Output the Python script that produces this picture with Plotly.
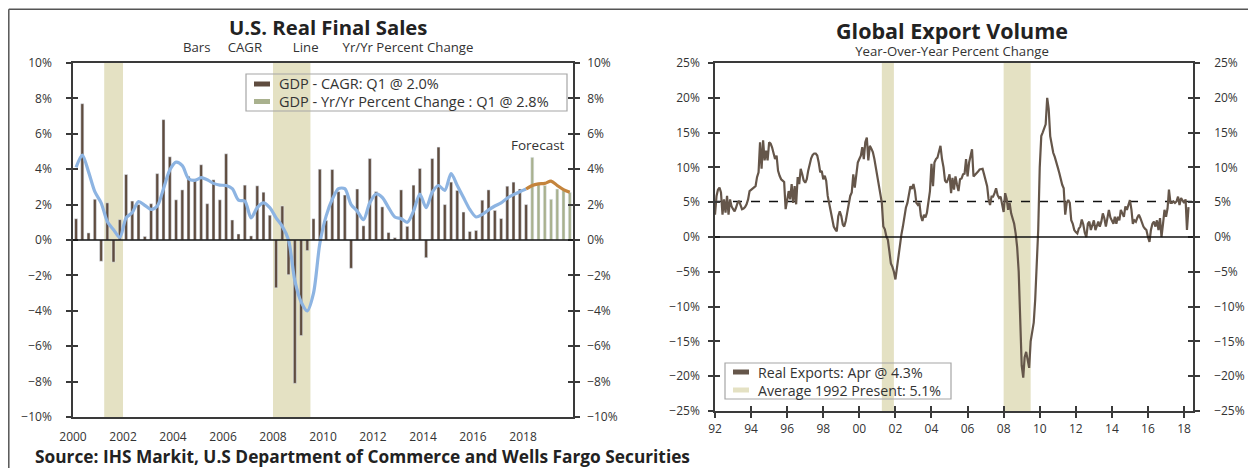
import pandas as pd
import plotly.graph_objects as go

# the page puts the figure 8px in from the top-left corner
OFF = 8
W, H = 1256 - OFF, 468 - OFF
FONT = "Open Sans"

# ---- U.S. real final sales, quarterly from 2000Q1 ----
# bars: CAGR, actual 2000Q1 - 2018Q1
cagr = [1.2, 7.7, 0.4, 2.3, -1.2, 2.1, -1.25, 1.15,
        3.7, 2.2, 2.0, 0.2, 2.05, 3.75, 6.8, 4.7,
        2.27, 2.83, 3.6, 3.45, 4.25, 2.05, 3.4, 2.27,
        4.87, 1.13, 0.34, 3.1, 0.23, 3.06, 2.7, 1.4,
        -2.7, 1.92, -1.96, -8.1, -5.4, -0.6, 1.2, 4.0,
        1.1, 3.98, 2.73, 2.54, -1.6, 2.88, 0.8, 4.6,
        2.73, 1.87, 0.42, 0.13, 2.83, 0.77, 3.1, 4.04,
        -1.0, 4.6, 5.25, 2.0, 3.27, 2.8, 1.58, 0.48,
        0.54, 2.25, 2.83, 1.67, 1.21, 3.04, 3.27, 2.88, 2.0]
# bars: CAGR forecast 2018Q2 - 2019Q4
cagr_fcst = [4.67, 3.17, 3.08, 2.3, 2.88, 2.79, 2.69]

# line: yr/yr percent change, actual
yoy = [4.1, 4.8, 3.85, 2.73, 2.1, 1.05, 0.58, 0.15,
       1.25, 1.55, 2.17, 1.96, 1.73, 1.92, 2.9, 3.95,
       4.4, 4.2, 3.46, 3.37, 3.52, 3.4, 3.2, 3.1,
       3.08, 2.9, 2.25, 2.2, 1.25, 1.83, 2.1, 1.83,
       1.25, 0.77, 0.0, -2.3, -3.5, -4.0, -3.0, -0.2,
       1.35, 2.3, 2.9, 2.9, 2.0, 1.63, 1.15, 2.1,
       2.6, 2.4, 1.83, 1.3, 1.2, 1.0, 1.63, 2.6,
       1.83, 2.7, 3.08, 2.8, 3.75, 3.08, 2.4, 1.73,
       1.3, 1.45, 1.7, 1.92, 2.1, 2.37, 2.56, 2.73, 2.88]
yoy_fcst = [3.08, 3.17, 3.2, 3.33, 3.08, 2.85, 2.7]

us_tick_years = [2000, 2002, 2004, 2006, 2008, 2010, 2012, 2014, 2016, 2018]
recessions_us = [("2001-04-01", "2002-01-01"), ("2008-01-01", "2009-07-01")]
us_legend = ["GDP - CAGR: Q1 @ 2.0%", "GDP - Yr/Yr Percent Change : Q1 @ 2.8%"]

# ---- Global export volume, monthly yr/yr from Jan 1992 ----
exports = [
    3.2, 5.9, 6.8, 7.1, 6.4, 3.2, 5.4, 3.5, 5.9, 3.2, 5.4, 4.4,          # 1992
    4.0, 3.7, 4.2, 4.9, 5.2, 4.5, 4.0, 4.1, 4.3, 4.7, 5.4, 6.6,          # 1993
    6.8, 6.9, 7.1, 7.3, 8.6, 9.3, 13.6, 9.8, 13.9, 11.0, 12.4, 11.0,     # 1994
    13.6, 13.4, 12.9, 11.9, 11.2, 11.7, 9.5, 8.8, 8.3, 8.1, 7.9, 4.0,    # 1995
    5.7, 6.6, 5.4, 7.6, 4.9, 7.3, 4.7, 8.6, 7.6, 9.8, 9.0, 8.1,          # 1996
    7.8, 8.3, 9.5, 10.5, 11.3, 11.8, 12.0, 12.0, 11.7, 10.7, 9.3, 9.5,   # 1997
    8.3, 8.8, 8.1, 5.9, 4.9, 3.7, 2.8, 1.5, 1.1, 0.8, 3.0, 3.7,          # 1998
    3.0, 1.8, 1.5, 2.3, 3.5, 4.7, 5.9, 6.4, 9.0, 7.1, 9.3, 10.7,         # 1999
    11.2, 11.7, 12.9, 11.2, 13.6, 14.3, 11.0, 13.1, 12.7, 12.2, 11.2, 10.0,  # 2000
    8.8, 7.6, 6.1, 4.9, 1.5, 1.1, 0.1, -0.4, -2.1, -3.8, -4.3, -5.0,     # 2001
    -6.1, -4.3, -2.8, -1.6, 0.3, 1.5, 3.0, 4.2, 4.9, 6.1, 7.3, 6.9,      # 2002
    7.6, 6.6, 4.9, 4.6, 4.9, 3.0, 2.3, 3.2, 2.8, 3.5, 5.4, 6.6,          # 2003
    10.5, 7.3, 10.7, 11.2, 11.4, 12.2, 13.1, 11.2, 10.0, 8.1, 7.8, 8.3,  # 2004
    9.0, 6.3, 8.5, 6.8, 8.7, 7.5, 6.6, 8.3, 8.4, 9.0, 9.1, 11.2,         # 2005
    8.7, 10.7, 11.5, 12.6, 8.7, 8.9, 9.2, 9.4, 9.7, 9.8, 9.8, 9.0,       # 2006
    8.2, 7.3, 5.5, 4.6, 5.8, 5.8, 6.3, 7.0, 6.0, 5.6, 5.8, 4.9,          # 2007
    3.6, 6.3, 5.5, 3.9, 4.9, 3.4, 2.5, 1.9, 0.5, -1.5, -5.0, -12.0,      # 2008
    -18.5, -20.2, -17.3, -16.5, -18.0, -18.8, -15.0, -13.9, -12.3, -9.0, -4.0, 1.0,  # 2009
    10.0, 14.5, 15.0, 15.5, 16.2, 20.0, 18.4, 14.5, 12.9, 12.1, 11.5, 10.9,  # 2010
    10.0, 9.2, 8.3, 7.5, 7.0, 3.2, 4.9, 5.3, 4.9, 2.4, 1.9, 1.0,         # 2011
    0.7, 0.5, 1.2, 1.5, 2.5, 1.8, 0.6, 0.0, 1.9, 2.2, 1.0, 1.9,          # 2012
    2.4, 1.0, 1.6, 2.2, 1.5, 2.2, 3.4, 2.7, 1.5, 2.7, 3.9, 2.8,          # 2013
    2.4, 1.9, 2.9, 1.9, 2.9, 2.4, 3.9, 3.4, 2.9, 4.4, 3.9, 4.6,          # 2014
    5.3, 3.9, 1.9, 2.4, 2.2, 2.8, 3.2, 2.7, 1.9, 1.5, 1.2, 1.0,          # 2015
    0.0, -0.7, 1.0, 1.9, 2.2, 1.5, 2.4, 1.0, 2.7, 0.0, 1.9, 3.9,         # 2016
    2.9, 4.1, 6.8, 4.9, 4.9, 5.1, 4.9, 5.1, 5.8, 4.6, 5.6, 5.3,          # 2017
    4.9, 5.4, 1.0, 4.3]                                                  # 2018
export_avg = 5.1

recessions_gl = [("2001-04-01", "2001-12-01"), ("2008-01-01", "2009-07-01")]
gl_legend = ["Real Exports: Apr @ 4.3%", "Average 1992 Present: 5.1%"]

BROWN = "#5f4c3f"
GREEN = "#a9b18e"
BLUE = "#8db4e2"
ORANGE = "#c4843c"
SHADE = "#e4e1c3"
LINE_BR = "#65564a"
AXC = "#3a3a3a"
TXT = "#333333"


def px(x):
    return (x - OFF) / W


def py(y):
    return 1 - (y - OFF) / H


q_dates = pd.date_range("2000-01-01", periods=len(cagr) + len(cagr_fcst), freq="QS") + pd.Timedelta(days=45)
q_act = q_dates[:len(cagr)]
q_fc = q_dates[len(cagr):]
m_dates = pd.date_range("1992-01-01", periods=len(exports), freq="MS")

bar_w = 44 * 24 * 3600 * 1000

fig = go.Figure()

# left chart
fig.add_trace(go.Bar(x=q_act, y=cagr, marker_color=BROWN, width=bar_w, xaxis="x", yaxis="y"))
fig.add_trace(go.Bar(x=q_fc, y=cagr_fcst, marker_color=GREEN, width=bar_w, xaxis="x", yaxis="y"))
fig.add_trace(go.Scatter(x=q_act, y=yoy, mode="lines",
                         line=dict(color=BLUE, width=3.2, shape="spline", smoothing=0.8),
                         xaxis="x", yaxis="y"))
fig.add_trace(go.Scatter(x=[q_act[-1]] + list(q_fc), y=[yoy[-1]] + yoy_fcst, mode="lines",
                         line=dict(color=ORANGE, width=3.2, shape="spline", smoothing=0.8),
                         xaxis="x", yaxis="y"))

# right chart
fig.add_trace(go.Scatter(x=[m_dates[0], m_dates[-1] + pd.DateOffset(months=3)], y=[export_avg, export_avg],
                         mode="lines", line=dict(color="#111111", width=1.3, dash="dash"),
                         xaxis="x2", yaxis="y2"))
fig.add_trace(go.Scatter(x=m_dates, y=exports, mode="lines", line=dict(color=LINE_BR, width=2.2),
                         xaxis="x2", yaxis="y2"))

# plot areas in page pixels
L1, R1, T1, B1 = 73, 573, 63, 417
L2, R2, T2, B2 = 715, 1193, 63, 411
dom_x1 = [px(L1), px(R1)]
dom_y1 = [py(B1), py(T1)]
dom_x2 = [px(L2), px(R2)]
dom_y2 = [py(B2), py(T2)]

tickfont = dict(family=FONT, size=12, color=TXT)


def yl(standoff):
    return dict(showgrid=False, zeroline=False, showline=True, linecolor=AXC, linewidth=1.5,
                ticks="outside", ticklen=5, tickcolor=AXC, tickwidth=1.5, tickfont=tickfont,
                ticksuffix="%", ticklabelstandoff=standoff, automargin=False)


yin = dict(showgrid=False, zeroline=False, showline=False, ticks="inside", ticklen=5,
           tickcolor=AXC, tickwidth=1.5, showticklabels=False, automargin=False)

fig.update_layout(
    width=W, height=H, margin=dict(l=0, r=0, t=0, b=0, autoexpand=False),
    plot_bgcolor="white", paper_bgcolor="white",
    font=dict(family=FONT, color=TXT),
    barmode="overlay", showlegend=False,
    xaxis=dict(domain=dom_x1, anchor="y", type="date", range=["2000-01-01", "2020-01-01"],
               tickvals=[f"{y}-01-01" for y in us_tick_years], ticktext=[str(y) for y in us_tick_years],
               showgrid=False, zeroline=False, automargin=False,
               showline=True, mirror=True, linecolor=AXC, linewidth=1.5, ticks="", tickfont=tickfont,
               ticklabelstandoff=8),
    yaxis=dict(domain=dom_y1, anchor="x", range=[-10, 10], dtick=2, side="left", **yl(12)),
    yaxis3=dict(domain=dom_y1, anchor="x", overlaying="y", range=[-10, 10], dtick=2, side="right", **yl(5)),
    yaxis5=dict(domain=dom_y1, anchor="x", overlaying="y", range=[-10, 10], dtick=2, side="left", **yin),
    yaxis6=dict(domain=dom_y1, anchor="x", overlaying="y", range=[-10, 10], dtick=2, side="right", **yin),
    xaxis2=dict(domain=dom_x2, anchor="y2", type="date", range=["1992-01-01", "2018-07-01"],
                dtick="M24", tick0="1992-01-01", tickformat="%y", showgrid=False, zeroline=False,
                showline=True, mirror=True, linecolor=AXC, linewidth=1.5, ticks="outside", ticklen=5,
                tickcolor=AXC, tickwidth=1.5, tickfont=tickfont, ticklabelstandoff=1, automargin=False),
    xaxis3=dict(domain=dom_x2, anchor="y2", overlaying="x2", type="date", range=["1992-01-01", "2018-07-01"],
                dtick="M24", tick0="1992-01-01", showgrid=False, zeroline=False, showline=False,
                ticks="inside", ticklen=5, tickcolor=AXC, tickwidth=1.5, showticklabels=False,
                automargin=False),
    yaxis2=dict(domain=dom_y2, anchor="x2", range=[-25, 25], dtick=5, side="left", **yl(6)),
    yaxis4=dict(domain=dom_y2, anchor="x2", overlaying="y2", range=[-25, 25], dtick=5, side="right", **yl(12)),
    yaxis7=dict(domain=dom_y2, anchor="x2", overlaying="y2", range=[-25, 25], dtick=5, side="left", **yin),
    yaxis8=dict(domain=dom_y2, anchor="x2", overlaying="y2", range=[-25, 25], dtick=5, side="right", **yin),
)

# dummy traces so the twin axes are drawn
for ax in ["y3", "y5", "y6"]:
    fig.add_trace(go.Scatter(x=[None], y=[None], xaxis="x", yaxis=ax))
for xa, ya in [("x2", "y4"), ("x2", "y7"), ("x2", "y8"), ("x3", "y2")]:
    fig.add_trace(go.Scatter(x=[None], y=[None], xaxis=xa, yaxis=ya))

# recession shading
for a, b in recessions_us:
    fig.add_shape(type="rect", xref="x", yref="y domain", x0=a, x1=b, y0=0, y1=1,
                  fillcolor=SHADE, line_width=0, layer="below")
for a, b in recessions_gl:
    fig.add_shape(type="rect", xref="x2", yref="y2 domain", x0=a, x1=b, y0=0, y1=1,
                  fillcolor=SHADE, line_width=0, layer="below")

# zero lines
fig.add_shape(type="line", xref="x domain", yref="y", x0=0, x1=1, y0=0, y1=0,
              line=dict(color="#111111", width=1.5))
fig.add_shape(type="line", xref="x2 domain", yref="y2", x0=0, x1=1, y0=0, y1=0,
              line=dict(color="#111111", width=1.3))

# outer frame
frame = dict(color="#555555", width=1.5)
fig.add_shape(type="line", xref="paper", yref="paper", x0=px(8.8), x1=px(1254.5), y0=py(9.2), y1=py(9.2), line=frame)
fig.add_shape(type="line", xref="paper", yref="paper", x0=px(8.8), x1=px(8.8), y0=0, y1=py(9.2), line=frame)
fig.add_shape(type="line", xref="paper", yref="paper", x0=px(1254.5), x1=px(1254.5), y0=0, y1=py(9.2), line=frame)


def note(text, x, y, size=13.5, bold=False, anchor="center"):
    fig.add_annotation(text=f"<b>{text}</b>" if bold else text, x=px(x), y=py(y),
                       xref="paper", yref="paper", xanchor=anchor, yanchor="middle", showarrow=False,
                       font=dict(family=FONT, size=size, color="#222222" if bold else TXT))


def heading(title, sub, x, y, tsize):
    # title and subtitle as one two-line text block, subtitle in the base size
    txt = f"<span style='font-size:{tsize}px;color:#222222'><b>{title}</b></span><br>{sub}"
    fig.add_annotation(text=txt, x=px(x), y=py(y), xref="paper", yref="paper",
                       xanchor="center", yanchor="middle", align="center", showarrow=False,
                       font=dict(family=FONT, size=13.2, color=TXT))


# hand-made legends: box, swatches and labels
def legend_box(x0, x1, y0, y1, rows, colors, labels, size):
    fig.add_shape(type="rect", xref="paper", yref="paper", x0=px(x0), x1=px(x1), y0=py(y1), y1=py(y0),
                  line=dict(color="#a6a6a6", width=1.2), fillcolor="rgba(0,0,0,0)")
    for yy, col, lab in zip(rows, colors, labels):
        fig.add_shape(type="line", xref="paper", yref="paper", x0=px(x0 + 8), x1=px(x0 + 24),
                      y0=py(yy), y1=py(yy), line=dict(color=col, width=5))
        note(lab, x0 + 31, yy, size=size, anchor="left")


legend_box(246, 567, 74, 111, [84, 101.5], [BROWN, GREEN], us_legend, 14.5)
legend_box(725, 951, 363, 399, [372, 390], [LINE_BR, SHADE], gl_legend, 14.2)

gap = "&nbsp;"
heading("U.S. Real Final Sales",
        "Bars" + gap * 5 + "CAGR" + gap * 9 + "Line" + gap * 7 + "Yr/Yr Percent Change",
        328, 35, 20.3)
heading("Global Export Volume", "Year-Over-Year Percent Change", 952, 38, 21.5)
note("Forecast", 538, 145)
note("Source: IHS Markit, U.S Department of Commerce and Wells Fargo Securities", 33, 456,
     size=17.3, bold=True, anchor="left")

fig.write_html("out.html")
